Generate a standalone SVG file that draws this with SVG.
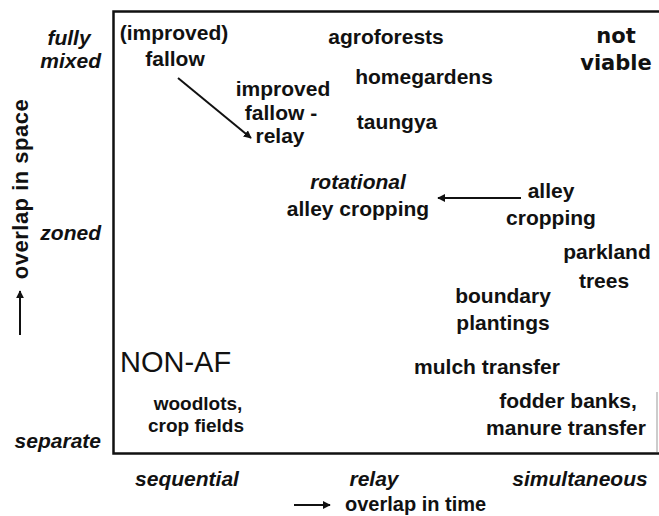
<svg xmlns="http://www.w3.org/2000/svg" width="659" height="516" viewBox="0 0 659 516">
<style>
text{font-family:"Liberation Sans",Arial,sans-serif;font-weight:bold;fill:#111;}
.l{font-size:21px;text-anchor:middle;}
.ax{font-size:21px;font-style:italic;}
.s{font-size:19px;text-anchor:middle;}
.c{stroke:#111;stroke-width:2;fill:none;}
.dv{font-family:"DejaVu Sans",sans-serif;font-size:21px;text-anchor:middle;}
</style>
<defs>
<marker id="ah" viewBox="0 0 10 10" refX="9" refY="5" markerWidth="4" markerHeight="4" orient="auto" markerUnits="strokeWidth">
<path d="M0,0 L10,5 L0,10 z" fill="#111"/>
</marker>
</defs>
<rect width="659" height="516" fill="#fff"/>
<g id="frame">
<path d="M659,11.5 H113.5 V453.5 H659" stroke="#111" stroke-width="2.5" fill="none"/>
<line x1="657" y1="392" x2="657" y2="452" stroke="#999" stroke-width="1"/>
</g>
<g id="axis-y">
<text class="ax" x="69" y="45" text-anchor="middle">fully</text>
<text class="ax" x="101" y="68" text-anchor="end">mixed</text>
<text class="ax" x="101" y="240" text-anchor="end">zoned</text>
<text class="ax" x="101" y="448" text-anchor="end">separate</text>
<text font-size="22" letter-spacing="0.5" text-anchor="middle" transform="translate(28,189) rotate(-90)">overlap in space</text>
</g>
<g id="axis-x">
<text class="ax" x="187" y="486" text-anchor="middle">sequential</text>
<text class="ax" x="374" y="486" text-anchor="middle">relay</text>
<text class="ax" x="580" y="486" text-anchor="middle">simultaneous</text>
<text font-size="20" x="345" y="511">overlap in time</text>
</g>
<g id="connectors">
<line class="c" x1="20" y1="335" x2="20" y2="291" marker-end="url(#ah)"/>
<line class="c" x1="294" y1="505" x2="330" y2="505" marker-end="url(#ah)"/>
<line class="c" x1="178" y1="78" x2="251" y2="138" marker-end="url(#ah)"/>
<line class="c" x1="521" y1="198" x2="438" y2="198" marker-end="url(#ah)"/>
</g>
<g id="improved-fallow"><text class="l" x="174" y="40">(improved)</text><text class="l" x="175" y="66">fallow</text></g>
<g id="agroforests"><text class="l" x="386" y="44">agroforests</text></g>
<g id="not-viable"><text class="dv" x="616" y="43">not</text><text class="dv" x="616" y="70">viable</text></g>
<g id="homegardens"><text class="l" x="424" y="84">homegardens</text></g>
<g id="improved-fallow-relay"><text class="l" x="283" y="96">improved</text><text class="l" x="281" y="120">fallow -</text><text class="l" x="280" y="143">relay</text></g>
<g id="taungya"><text class="l" x="397" y="129">taungya</text></g>
<g id="rotational-alley"><text class="l" x="358" y="189" font-style="italic">rotational</text><text class="l" x="358" y="216">alley cropping</text></g>
<g id="alley-cropping"><text class="l" x="551" y="198">alley</text><text class="l" x="551" y="225">cropping</text></g>
<g id="parkland"><text class="l" x="607" y="259">parkland</text><text class="l" x="604" y="288">trees</text></g>
<g id="boundary"><text class="l" x="503" y="303">boundary</text><text class="l" x="503" y="330">plantings</text></g>
<g id="mulch"><text class="l" x="487" y="374">mulch transfer</text></g>
<g id="fodder"><text class="l" x="568" y="408">fodder banks,</text><text class="l" x="566" y="435">manure transfer</text></g>
<g id="non-af"><text x="120" y="372" font-size="29" style="font-weight:normal">NON-AF</text></g>
<g id="woodlots"><text class="s" x="198" y="410">woodlots,</text><text class="s" x="196" y="432">crop fields</text></g>
</svg>
